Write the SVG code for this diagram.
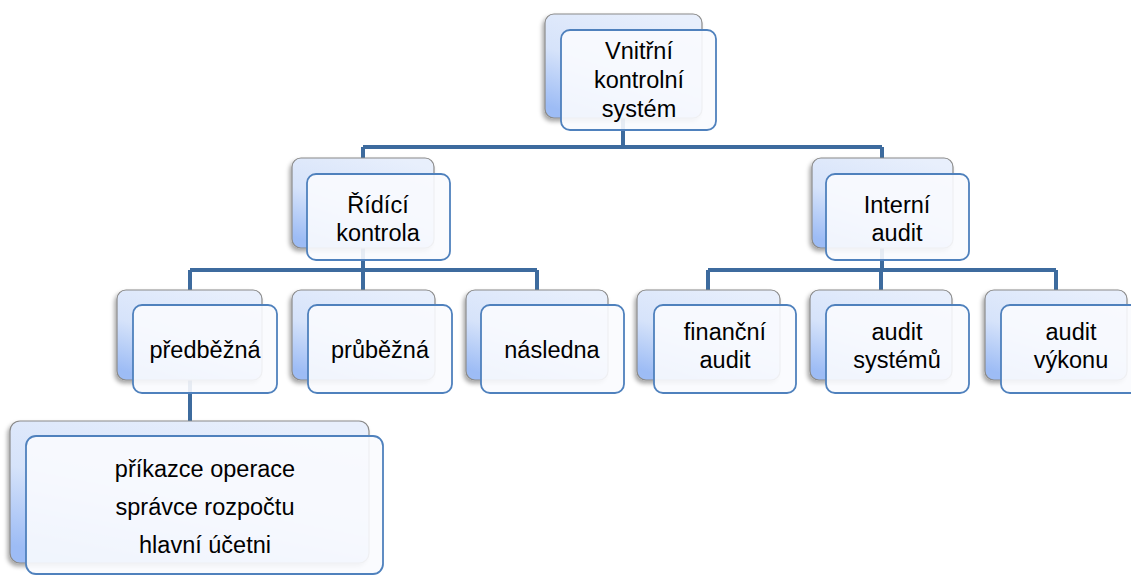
<svg xmlns="http://www.w3.org/2000/svg" width="1131" height="575" viewBox="0 0 1131 575">
<defs>
<linearGradient id="bg" x1="0.75" y1="0" x2="0.25" y2="1">
<stop offset="0" stop-color="#E8EFFC"/>
<stop offset="0.55" stop-color="#D6E3FA"/>
<stop offset="1" stop-color="#9DBCF5"/>
</linearGradient>
<filter id="sh" x="-10%" y="-10%" width="120%" height="125%">
<feDropShadow dx="-2" dy="3" stdDeviation="2" flood-color="#000" flood-opacity="0.35"/>
</filter>
<style>
.back{fill:url(#bg);stroke:#8A8A8A;stroke-width:1.2;filter:url(#sh)}
.front{fill:#FAFBFE;fill-opacity:0.9;stroke:#4F81BD;stroke-width:1.8}
.t{font-family:"Liberation Sans",Arial,sans-serif;font-size:23.5px;fill:#000;text-anchor:middle}
.c{fill:none;stroke:#3D6B9E;stroke-width:4}
</style>
</defs>
<g id="connectors">
<path class="c" d="M623,117 V147 M363,147 H882 M363,147 V158 M882,147 V158"/>
<path class="c" d="M363,247 V270 M190,270 H537 M190,270 V290 M363,270 V290 M537,270 V290"/>
<path class="c" d="M882,247 V270 M708,270 H1056 M708,270 V290 M881,270 V290 M1056,270 V290"/>
<path class="c" d="M190,380 V421"/>
</g>
<g id="n-vks">
<rect class="back" x="545" y="14" width="157" height="104" rx="9"/>
<rect class="front" x="561" y="30" width="155" height="100" rx="9"/>
<text class="t" x="639" y="59">Vnitřní</text>
<text class="t" x="639" y="88">kontrolní</text>
<text class="t" x="639" y="117">systém</text>
</g>
<g id="n-ridici">
<rect class="back" x="292" y="158" width="142" height="90" rx="9"/>
<rect class="front" x="307" y="174" width="143" height="86" rx="9"/>
<text class="t" x="378" y="213">Řídící</text>
<text class="t" x="378" y="241">kontrola</text>
</g>
<g id="n-interni">
<rect class="back" x="812" y="158" width="141" height="90" rx="9"/>
<rect class="front" x="826" y="174" width="143" height="86" rx="9"/>
<text class="t" x="897" y="213">Interní</text>
<text class="t" x="897" y="241">audit</text>
</g>
<g id="n-predbezna">
<rect class="back" x="117" y="290" width="145" height="90" rx="9"/>
<rect class="front" x="133" y="305" width="144" height="88" rx="9"/>
<text class="t" x="205" y="358">předběžná</text>
</g>
<g id="n-prubezna">
<rect class="back" x="292" y="290" width="143" height="90" rx="9"/>
<rect class="front" x="308" y="305" width="144" height="88" rx="9"/>
<text class="t" x="380" y="358">průběžná</text>
</g>
<g id="n-nasledna">
<rect class="back" x="466" y="290" width="142" height="90" rx="9"/>
<rect class="front" x="481" y="305" width="143" height="88" rx="9"/>
<text class="t" x="552" y="358">následna</text>
</g>
<g id="n-financni">
<rect class="back" x="637" y="290" width="143" height="90" rx="9"/>
<rect class="front" x="654" y="305" width="142" height="88" rx="9"/>
<text class="t" x="725" y="340">finanční</text>
<text class="t" x="725" y="368">audit</text>
</g>
<g id="n-systemu">
<rect class="back" x="810" y="290" width="142" height="90" rx="9"/>
<rect class="front" x="826" y="305" width="143" height="88" rx="9"/>
<text class="t" x="897" y="340">audit</text>
<text class="t" x="897" y="368">systémů</text>
</g>
<g id="n-vykonu">
<rect class="back" x="985" y="290" width="142" height="90" rx="9"/>
<rect class="front" x="1001" y="305" width="143" height="88" rx="9"/>
<text class="t" x="1071" y="340">audit</text>
<text class="t" x="1071" y="368">výkonu</text>
</g>
<g id="n-osoby">
<rect class="back" x="10" y="421" width="359" height="142" rx="10"/>
<rect class="front" x="26" y="436" width="357" height="138" rx="10"/>
<text class="t" x="205" y="477">příkazce operace</text>
<text class="t" x="205" y="515">správce rozpočtu</text>
<text class="t" x="205" y="553">hlavní účetni</text>
</g>
</svg>
